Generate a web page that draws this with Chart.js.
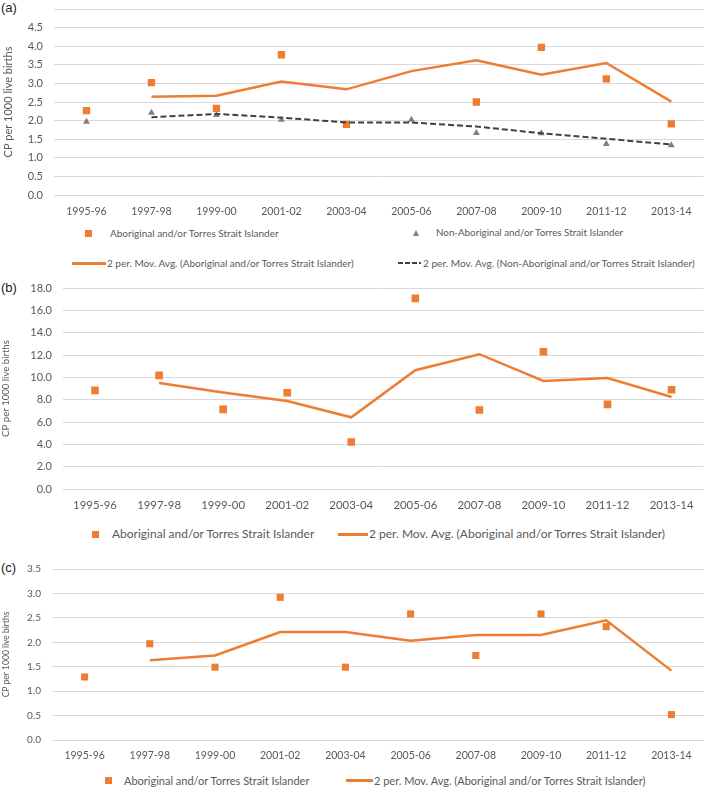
<!DOCTYPE html>
<html>
<head>
<meta charset="utf-8">
<script src="https://cdn.jsdelivr.net/npm/chart.js@4"></script>
<style>
  body{margin:0;background:#fff;width:709px;height:788px;position:relative;overflow:hidden;font-family:Lato,"Open Sans",sans-serif;color:#595959}
  canvas{position:absolute;left:0}
  .panel{position:absolute;left:1px;font-family:"Liberation Sans",Arial,sans-serif;font-size:13px;color:#222;line-height:1}
  .leg{position:absolute;white-space:nowrap;line-height:1;transform:translateY(-50%)}
  .sq{position:absolute;width:7px;height:7px;background:#ED7D31}
  .tri{position:absolute;width:0;height:0;border-left:3.5px solid transparent;border-right:3.5px solid transparent;border-bottom:6px solid #7F7F7F}
  .ln{position:absolute;height:3px;background:#ED7D31}
  .dash{position:absolute;height:2px;background:repeating-linear-gradient(90deg,#404040 0 5px,transparent 5px 7px)}
</style>
</head>
<body>
<div class="panel" style="top:1px">(a)</div>
<div class="panel" style="top:281px">(b)</div>
<div class="panel" style="top:561px">(c)</div>
<canvas id="chartA" width="709" height="222" style="top:0"></canvas>
<canvas id="chartB" width="709" height="250" style="top:270px"></canvas>
<canvas id="chartC" width="709" height="220" style="top:550px"></canvas>
<div id="legends"></div>
<script>
const seasons = ["1995-96","1997-98","1999-00","2001-02","2003-04","2005-06","2007-08","2009-10","2011-12","2013-14"];
const nameAb = "Aboriginal and/or Torres Strait Islander";
const nameNon = "Non-Aboriginal and/or Torres Strait Islander";
const nameAbAvg = "2 per. Mov. Avg. (Aboriginal and/or Torres Strait Islander)";
const nameNonAvg = "2 per. Mov. Avg. (Non-Aboriginal and/or Torres Strait Islander)";
const yTitle = "CP per 1000 live births";

// (a)
const aAb     = [2.27, 3.02, 2.33, 3.77, 1.90, null, 2.50, 3.97, 3.12, 1.91];
const aAbAvg  = [null, 2.64, 2.67, 3.05, 2.84, 3.33, 3.62, 3.23, 3.55, 2.51];
const aNon    = [1.97, 2.21, 2.15, 2.02, 1.88, 2.02, 1.67, 1.66, 1.37, 1.34];
const aNonAvg = [null, 2.09, 2.18, 2.08, 1.95, 1.95, 1.84, 1.66, 1.51, 1.36];
const aYMax = 5.0, aYStep = 0.5;

// (b)
const bAb    = [8.83, 10.17, 7.13, 8.62, 4.21, 17.07, 7.07, 12.29, 7.58, 8.89];
const bAbAvg = [null, 9.50, 8.65, 7.88, 6.42, 10.64, 12.07, 9.68, 9.94, 8.24];
const bYMax = 18, bYStep = 2;

// (c)
const cAb    = [1.29, 1.97, 1.49, 2.92, 1.49, 2.58, 1.73, 2.58, 2.32, 0.52];
const cAbAvg = [null, 1.63, 1.73, 2.21, 2.21, 2.03, 2.15, 2.15, 2.45, 1.42];
const cYMax = 3.5, cYStep = 0.5;

const ORANGE = "#ED7D31", GREY = "#7F7F7F", DARK = "#404040", GRID = "#D9D9D9", TXT = "#595959";
const FONT = "Lato, 'Open Sans', sans-serif";

function pointSet(label, data, style, color, r){
  return {label, data, showLine:false, pointStyle:style, pointRadius:r, pointHoverRadius:r,
    pointBackgroundColor:color, pointBorderColor:color, pointBorderWidth:0, order:2};
}
function avgSet(label, data, color, w, dash){
  return {label, data, borderColor:color, borderWidth:w, borderDash:dash || [], pointRadius:0,
    fill:false, tension:0, order:1};
}

function makeChart(id, datasets, o){
  return new Chart(document.getElementById(id), {
    type:"line",
    data:{labels:seasons, datasets},
    options:{
      responsive:false, animation:false, devicePixelRatio:1,
      layout:{padding:{top:o.padTop, right:o.padRight, left:0, bottom:0}},
      plugins:{legend:{display:false}, tooltip:{enabled:false}},
      scales:{
        x:{offset:true, grid:{display:false, drawTicks:false}, border:{display:false},
          ticks:{color:TXT, font:{family:FONT, size:o.xFont}, padding:o.xPad, maxRotation:0, autoSkip:false},
          afterFit:s=>{ s.height = o.xHeight; }},
        y:{min:0, max:o.yMax, grid:{color:GRID, drawTicks:false}, border:{display:false},
          ticks:{stepSize:o.yStep, color:TXT, font:{family:FONT, size:o.yFont}, padding:11,
            callback:v => (o.hideTop && Math.abs(v - o.yMax) < 1e-9) ? "" : Number(v).toFixed(1)},
          title:{display:true, text:yTitle, color:TXT, font:{family:FONT, size:o.titleFont}, padding:{top:o.titlePad, bottom:0}},
          afterFit:s=>{ s.width = o.yWidth; s.paddingTop = 0; s.paddingBottom = 0; }}
      }
    }
  });
}

makeChart("chartA", [
  avgSet(nameAbAvg, aAbAvg, ORANGE, 2.5),
  avgSet(nameNonAvg, aNonAvg, DARK, 2, [6,3]),
  pointSet(nameAb, aAb, "rect", ORANGE, 5.2),
  pointSet(nameNon, aNon, "triangle", GREY, 4)
], {padTop:9, padRight:2, yWidth:54, xHeight:27, xPad:10, xFont:10.5, yFont:11, titleFont:11, titlePad:1.5, yMax:aYMax, yStep:aYStep, hideTop:true});

makeChart("chartB", [
  avgSet(nameAbAvg, bAbAvg, ORANGE, 2.5),
  pointSet(nameAb, bAb, "rect", ORANGE, 5.4)
], {padTop:18, padRight:1, yWidth:63, xHeight:31, xPad:9, xFont:11.4, yFont:11, titleFont:9.6, titlePad:0, yMax:bYMax, yStep:bYStep});

makeChart("chartC", [
  avgSet(nameAbAvg, cAbAvg, ORANGE, 2.5),
  pointSet(nameAb, cAb, "rect", ORANGE, 5)
], {padTop:19, padRight:2, yWidth:52, xHeight:30, xPad:9, xFont:10.5, yFont:10, titleFont:8.5, titlePad:1.5, yMax:cYMax, yStep:cYStep});

// legends (html)
const legends = document.getElementById("legends");
function mark(cls, x, y, w){
  const d = document.createElement("div");
  d.className = cls;
  if (cls === "sq"){ d.style.left = (x-3.5)+"px"; d.style.top = (y-3.5)+"px"; }
  else if (cls === "tri"){ d.style.left = (x-3.5)+"px"; d.style.top = (y-3)+"px"; }
  else { d.style.left = x+"px"; d.style.width = w+"px"; d.style.top = (y - (cls==="ln"?1.5:1))+"px"; }
  legends.appendChild(d);
}
function text(str, x, y, size){
  const d = document.createElement("div");
  d.className = "leg";
  d.textContent = str;
  d.style.left = x+"px"; d.style.top = y+"px"; d.style.fontSize = size+"px";
  legends.appendChild(d);
}
mark("sq", 88, 233); text(nameAb, 110, 233, 10);
mark("tri", 416, 233); text(nameNon, 436, 233, 9.8);
mark("ln", 72, 263, 34); text(nameAbAvg, 107, 263, 10);
mark("dash", 398, 263, 23); text(nameNonAvg, 423, 263, 10.1);

mark("sq", 95, 534); text(nameAb, 112, 534, 12);
mark("ln", 338, 534, 30); text(nameAbAvg, 369, 534, 12);

mark("sq", 108, 780); text(nameAb, 124, 780, 11);
mark("ln", 346, 780, 27); text(nameAbAvg, 374, 780, 11);
</script>
</body>
</html>
